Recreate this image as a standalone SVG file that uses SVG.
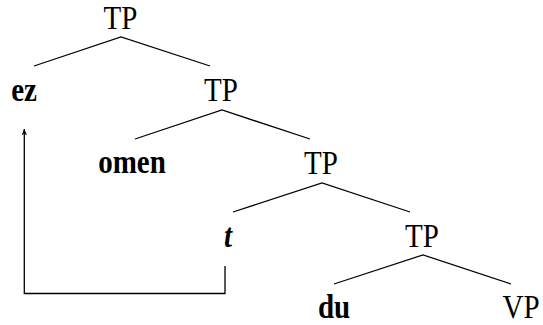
<svg xmlns="http://www.w3.org/2000/svg" width="543" height="325" viewBox="0 0 543 325">
<style>
text{font-family:"Liberation Serif","Times New Roman",serif;font-size:29px;fill:#000;text-anchor:middle}
.b{font-weight:bold}
.bi{font-weight:bold;font-style:italic}
.e{stroke:#000;stroke-width:1.3;fill:none}
</style>
<defs>
<marker id="ah" viewBox="0 0 10 8" refX="9.5" refY="4" markerWidth="7" markerHeight="5.6" orient="auto" markerUnits="userSpaceOnUse">
<path d="M0,0 L10,4 L0,8 L3,4 z" fill="#000"/>
</marker>
</defs>
<rect width="543" height="325" fill="#fff"/>
<g id="connectors">
<polyline class="e" points="34,66 121,37 210,66"/>
<polyline class="e" points="135,139 222,110 310,139"/>
<polyline class="e" points="233,212 322,183 410,212"/>
<polyline class="e" points="334,284 423,255 511,284"/>
<polyline class="e" points="225,266 225,293.5 24.3,293.5 24.3,129" marker-end="url(#ah)"/>
</g>
<g id="tp1"><text transform="translate(120.5,29.3) scale(1,1.14)">TP</text></g>
<g id="ez"><text class="b" transform="translate(24,100.5) scale(1,1.14)">ez</text></g>
<g id="tp2"><text transform="translate(221,100.5) scale(1,1.14)">TP</text></g>
<g id="omen"><text class="b" transform="translate(132,173.3) scale(1,1.14)">omen</text></g>
<g id="tp3"><text transform="translate(321,174) scale(1,1.14)">TP</text></g>
<g id="t"><text class="bi" transform="translate(228,247) scale(1,1.14)">t</text></g>
<g id="tp4"><text transform="translate(422,246.7) scale(1,1.14)">TP</text></g>
<g id="du"><text class="b" transform="translate(334,318.3) scale(1,1.14)">du</text></g>
<g id="vp"><text transform="translate(521,318.3) scale(1,1.14)">VP</text></g>
</svg>
